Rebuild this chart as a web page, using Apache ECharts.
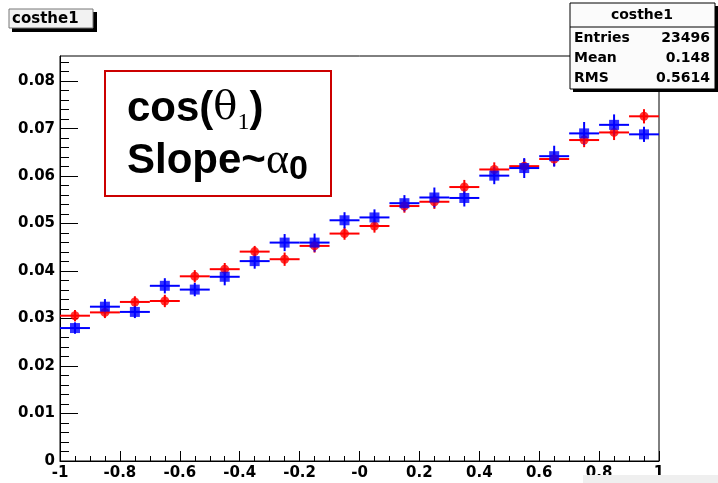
<!DOCTYPE html>
<html>
<head>
<meta charset="utf-8">
<script src="https://cdn.jsdelivr.net/npm/echarts@6/dist/echarts.min.js"></script>
<style>
html,body{margin:0;padding:0;background:#fff;}
#chart{width:718px;height:483px;}
</style>
</head>
<body>
<div id="chart"></div>
<script>
// ---- data ----
const binCenters = [-0.95,-0.85,-0.75,-0.65,-0.55,-0.45,-0.35,-0.25,-0.15,-0.05,0.05,0.15,0.25,0.35,0.45,0.55,0.65,0.75,0.85,0.95];
const redValues  = [0.0306,0.0313,0.0335,0.0337,0.0389,0.0404,0.0441,0.0425,0.0453,0.0479,0.0495,0.0537,0.0546,0.0577,0.0614,0.0621,0.0636,0.0676,0.0692,0.0726];
const redErrors  = [0.0012,0.0012,0.0012,0.0013,0.0013,0.0013,0.0012,0.0014,0.0014,0.0013,0.0014,0.0014,0.0015,0.0015,0.0015,0.0015,0.0015,0.0015,0.0016,0.0015];
const blueValues = [0.0280,0.0325,0.0314,0.0369,0.0361,0.0388,0.0421,0.0460,0.0460,0.0507,0.0513,0.0543,0.0555,0.0554,0.0601,0.0617,0.0642,0.0690,0.0708,0.0688];
const blueErrors = [0.0012,0.0016,0.0013,0.0016,0.0014,0.0018,0.0016,0.0018,0.0019,0.0017,0.0017,0.0017,0.0021,0.0018,0.0018,0.0021,0.0022,0.0024,0.0022,0.0016];
const xTickLabels = ["-1","-0.8","-0.6","-0.4","-0.2","-0","0.2","0.4","0.6","0.8","1"];
const yTickLabels = ["0","0.01","0.02","0.03","0.04","0.05","0.06","0.07","0.08"];
const histName = "costhe1";
const statsRows = [["Entries","23496"],["Mean","0.148"],["RMS","0.5614"]];
const binHalfWidth = 0.05;

// ---- chart ----
const chart = echarts.init(document.getElementById('chart'), null, {renderer:'canvas'});
const AX_FONT = 'DejaVu Sans';

const yMinor = [];
for (let i = 1; i <= 42; i++) { if (i % 5 !== 0) yMinor.push(+(i * 0.002).toFixed(4)); }

function errSeries(values, errors, color) {
  return {
    type: 'custom',
    data: binCenters.map((x, i) => [x, values[i], errors[i]]),
    renderItem: function (params, api) {
      const x = api.value(0), y = api.value(1), e = api.value(2);
      const l = api.coord([x - binHalfWidth, y]);
      const r = api.coord([x + binHalfWidth, y]);
      const t = api.coord([x, y + e]);
      const b = api.coord([x, y - e]);
      return {
        type: 'group',
        children: [
          {type: 'line', shape: {x1: l[0], y1: l[1], x2: r[0], y2: r[1]}, style: {stroke: color, lineWidth: 2}},
          {type: 'line', shape: {x1: t[0], y1: t[1], x2: b[0], y2: b[1]}, style: {stroke: color, lineWidth: 2}}
        ]
      };
    },
    silent: true,
    animation: false
  };
}

const option = {
  animation: false,
  backgroundColor: '#ffffff',
  grid: {left: 60, right: 59, top: 56, bottom: 22, show: true, borderColor: '#000', borderWidth: 1, backgroundColor: 'transparent'},
  xAxis: {
    type: 'value', min: -1, max: 1, interval: 0.2,
    axisLine: {show: true, onZero: false, lineStyle: {color: '#000', width: 1}},
    axisTick: {show: true, inside: true, length: 10, lineStyle: {color: '#000'}},
    minorTick: {show: true, splitNumber: 4, length: 5, lineStyle: {color: '#000'}},
    splitLine: {show: false},
    axisLabel: {
      color: '#000', fontFamily: AX_FONT, fontWeight: 'bold', fontSize: 15, margin: 5,
      formatter: function (v) { const i = Math.round((v + 1) / 0.2); return xTickLabels[i] !== undefined ? xTickLabels[i] : ''; }
    }
  },
  yAxis: [{
    type: 'value', min: 0, max: 0.0853, interval: 0.01,
    axisLine: {show: true, onZero: false, lineStyle: {color: '#000', width: 1}},
    axisTick: {show: true, inside: true, length: 18, lineStyle: {color: '#000'}},
    minorTick: {show: false},
    splitLine: {show: false},
    axisLabel: {
      color: '#000', fontFamily: AX_FONT, fontWeight: 'bold', fontSize: 15, margin: 5, showMaxLabel: false,
      formatter: function (v) { const i = Math.round(v / 0.01); return (Math.abs(v - i * 0.01) < 1e-7 && yTickLabels[i] !== undefined) ? yTickLabels[i] : ''; }
    }
  }, {
    type: 'value', min: 0, max: 0.0853, position: 'left',
    axisLine: {show: false, onZero: false},
    axisTick: {show: true, inside: true, length: 9, customValues: yMinor, lineStyle: {color: '#000'}},
    axisLabel: {show: false},
    splitLine: {show: false}
  }],
  series: [
    errSeries(redValues, redErrors, '#ff0000'),
    {type: 'scatter', data: binCenters.map((x, i) => [x, redValues[i]]), symbol: 'circle', symbolSize: 9, itemStyle: {color: '#ff0000'}, silent: true},
    errSeries(blueValues, blueErrors, '#0000ff'),
    {type: 'scatter', data: binCenters.map((x, i) => [x, blueValues[i]]), symbol: 'rect', symbolSize: 10, itemStyle: {color: '#0000ff'}, silent: true}
  ],
  graphic: [
    // title box
    {type: 'rect', shape: {x: 12, y: 12, width: 85, height: 20}, style: {fill: '#000'}, z: 10},
    {type: 'rect', shape: {x: 9, y: 9, width: 84, height: 19}, style: {fill: '#f2f2f2', stroke: '#777', lineWidth: 1}, z: 11},
    {type: 'text', x: 12, y: 19, style: {text: histName, fontFamily: AX_FONT, fontWeight: 'bold', fontSize: 15, fill: '#000', verticalAlign: 'middle', align: 'left'}, z: 12},
    // stats box
    {type: 'rect', shape: {x: 573, y: 6, width: 146, height: 86}, style: {fill: '#000'}, z: 10},
    {type: 'rect', shape: {x: 570, y: 3, width: 145, height: 86}, style: {fill: '#fbfbfb', stroke: '#000', lineWidth: 1}, z: 11},
    {type: 'line', shape: {x1: 570, y1: 27, x2: 715, y2: 27}, style: {stroke: '#000', lineWidth: 1}, z: 12},
    {type: 'text', x: 642, y: 15, style: {text: histName, fontFamily: AX_FONT, fontWeight: 'bold', fontSize: 14, fill: '#000', align: 'center', verticalAlign: 'middle'}, z: 12},
    {type: 'text', x: 574, y: 38, style: {text: statsRows[0][0], fontFamily: AX_FONT, fontWeight: 'bold', fontSize: 14, fill: '#000', align: 'left', verticalAlign: 'middle'}, z: 12},
    {type: 'text', x: 710, y: 38, style: {text: statsRows[0][1], fontFamily: AX_FONT, fontWeight: 'bold', fontSize: 14, fill: '#000', align: 'right', verticalAlign: 'middle'}, z: 12},
    {type: 'text', x: 574, y: 58, style: {text: statsRows[1][0], fontFamily: AX_FONT, fontWeight: 'bold', fontSize: 14, fill: '#000', align: 'left', verticalAlign: 'middle'}, z: 12},
    {type: 'text', x: 710, y: 58, style: {text: statsRows[1][1], fontFamily: AX_FONT, fontWeight: 'bold', fontSize: 14, fill: '#000', align: 'right', verticalAlign: 'middle'}, z: 12},
    {type: 'text', x: 574, y: 78, style: {text: statsRows[2][0], fontFamily: AX_FONT, fontWeight: 'bold', fontSize: 14, fill: '#000', align: 'left', verticalAlign: 'middle'}, z: 12},
    {type: 'text', x: 710, y: 78, style: {text: statsRows[2][1], fontFamily: AX_FONT, fontWeight: 'bold', fontSize: 14, fill: '#000', align: 'right', verticalAlign: 'middle'}, z: 12},
    // annotation box
    {type: 'rect', shape: {x: 105, y: 71, width: 226, height: 125}, style: {fill: '#fff', stroke: '#cc0000', lineWidth: 2}, z: 10},
    {type: 'text', x: 127, y: 83, z: 11, style: {
      text: '{a|cos(}{t|θ}{s|1}{a|)}', verticalAlign: 'top', align: 'left',
      rich: {
        a: {fontFamily: 'Liberation Sans', fontWeight: 'bold', fontSize: 42, lineHeight: 52, fill: '#000'},
        t: {fontFamily: 'DejaVu Serif', fontSize: 40, lineHeight: 52, fill: '#000'},
        s: {fontFamily: 'Liberation Serif', fontSize: 24, lineHeight: 24, verticalAlign: 'bottom', fill: '#000'}
      }
    }},
    {type: 'text', x: 127, y: 135, z: 11, style: {
      text: '{a|Slope~}{g|α}{z|0}', verticalAlign: 'top', align: 'left',
      rich: {
        a: {fontFamily: 'Liberation Sans', fontWeight: 'bold', fontSize: 42, lineHeight: 52, fill: '#000'},
        g: {fontFamily: 'Liberation Serif', fontSize: 44, lineHeight: 52, fill: '#000'},
        z: {fontFamily: 'Liberation Sans', fontWeight: 'bold', fontSize: 34, lineHeight: 29, verticalAlign: 'bottom', fill: '#000'}
      }
    }},
    // bottom-right grey strip
    {type: 'rect', shape: {x: 583, y: 475, width: 135, height: 8}, style: {fill: '#efefef'}, z: 20}
  ]
};
chart.setOption(option);
</script>
</body>
</html>
